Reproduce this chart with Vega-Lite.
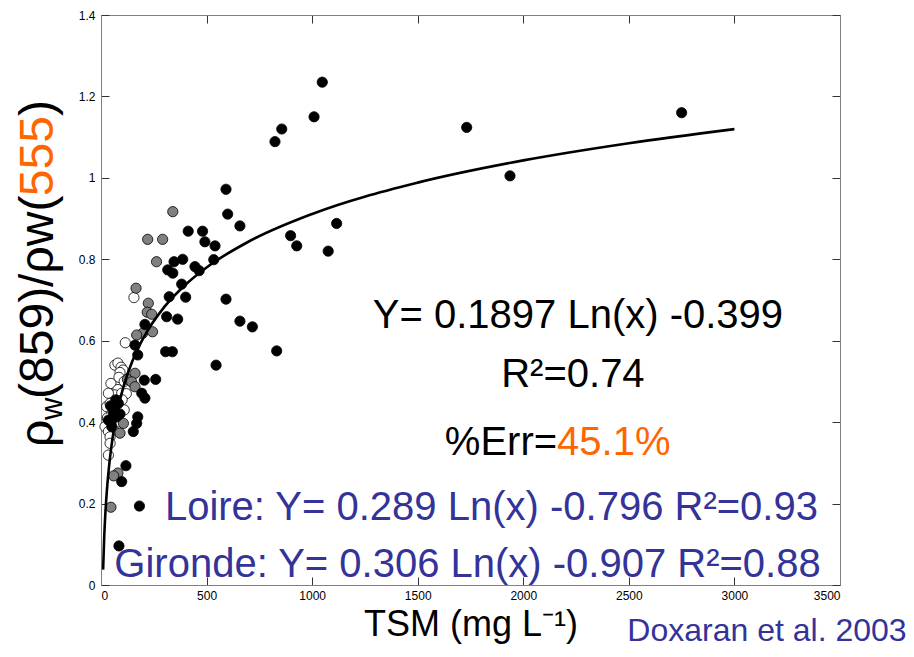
{
  "$schema": "https://vega.github.io/schema/vega-lite/v6.json",
  "width": 739,
  "height": 570,
  "autosize": {"type": "none"},
  "padding": {"left": 101, "top": 15, "right": 74, "bottom": 72},
  "background": "white",
  "config": {"view": {"stroke": null}, "font": "Liberation Sans"},
  "datasets": {
    "samples": [
      {"tsm": 156, "ratio": 0.706, "set": "open"},
      {"tsm": 115, "ratio": 0.595, "set": "open"},
      {"tsm": 66, "ratio": 0.540, "set": "open"},
      {"tsm": 80, "ratio": 0.545, "set": "open"},
      {"tsm": 95, "ratio": 0.535, "set": "open"},
      {"tsm": 104, "ratio": 0.528, "set": "open"},
      {"tsm": 90, "ratio": 0.522, "set": "open"},
      {"tsm": 85, "ratio": 0.510, "set": "open"},
      {"tsm": 47, "ratio": 0.495, "set": "open"},
      {"tsm": 110, "ratio": 0.500, "set": "open"},
      {"tsm": 80, "ratio": 0.480, "set": "open"},
      {"tsm": 66, "ratio": 0.467, "set": "open"},
      {"tsm": 98, "ratio": 0.471, "set": "open"},
      {"tsm": 35, "ratio": 0.471, "set": "open"},
      {"tsm": 120, "ratio": 0.470, "set": "open"},
      {"tsm": 100, "ratio": 0.455, "set": "open"},
      {"tsm": 58, "ratio": 0.438, "set": "open"},
      {"tsm": 27, "ratio": 0.438, "set": "open"},
      {"tsm": 66, "ratio": 0.446, "set": "open"},
      {"tsm": 43, "ratio": 0.446, "set": "open"},
      {"tsm": 110, "ratio": 0.430, "set": "open"},
      {"tsm": 50, "ratio": 0.420, "set": "open"},
      {"tsm": 30, "ratio": 0.410, "set": "open"},
      {"tsm": 75, "ratio": 0.400, "set": "open"},
      {"tsm": 19, "ratio": 0.389, "set": "open"},
      {"tsm": 60, "ratio": 0.380, "set": "open"},
      {"tsm": 35, "ratio": 0.377, "set": "open"},
      {"tsm": 43, "ratio": 0.364, "set": "open"},
      {"tsm": 43, "ratio": 0.348, "set": "open"},
      {"tsm": 35, "ratio": 0.319, "set": "open"},
      {"tsm": 340, "ratio": 0.917, "set": "grey"},
      {"tsm": 221, "ratio": 0.849, "set": "grey"},
      {"tsm": 292, "ratio": 0.849, "set": "grey"},
      {"tsm": 263, "ratio": 0.794, "set": "grey"},
      {"tsm": 166, "ratio": 0.729, "set": "grey"},
      {"tsm": 224, "ratio": 0.692, "set": "grey"},
      {"tsm": 219, "ratio": 0.670, "set": "grey"},
      {"tsm": 240, "ratio": 0.665, "set": "grey"},
      {"tsm": 244, "ratio": 0.622, "set": "grey"},
      {"tsm": 197, "ratio": 0.618, "set": "grey"},
      {"tsm": 169, "ratio": 0.614, "set": "grey"},
      {"tsm": 161, "ratio": 0.520, "set": "grey"},
      {"tsm": 125, "ratio": 0.505, "set": "grey"},
      {"tsm": 145, "ratio": 0.499, "set": "grey"},
      {"tsm": 161, "ratio": 0.487, "set": "grey"},
      {"tsm": 106, "ratio": 0.397, "set": "grey"},
      {"tsm": 90, "ratio": 0.373, "set": "grey"},
      {"tsm": 80, "ratio": 0.275, "set": "grey"},
      {"tsm": 60, "ratio": 0.268, "set": "grey"},
      {"tsm": 47, "ratio": 0.191, "set": "grey"},
      {"tsm": 2750, "ratio": 1.160, "set": "filled"},
      {"tsm": 1732, "ratio": 1.124, "set": "filled"},
      {"tsm": 1937, "ratio": 1.005, "set": "filled"},
      {"tsm": 1048, "ratio": 1.235, "set": "filled"},
      {"tsm": 1009, "ratio": 1.150, "set": "filled"},
      {"tsm": 856, "ratio": 1.120, "set": "filled"},
      {"tsm": 824, "ratio": 1.089, "set": "filled"},
      {"tsm": 592, "ratio": 0.972, "set": "filled"},
      {"tsm": 600, "ratio": 0.911, "set": "filled"},
      {"tsm": 658, "ratio": 0.882, "set": "filled"},
      {"tsm": 1116, "ratio": 0.888, "set": "filled"},
      {"tsm": 898, "ratio": 0.858, "set": "filled"},
      {"tsm": 927, "ratio": 0.833, "set": "filled"},
      {"tsm": 1076, "ratio": 0.820, "set": "filled"},
      {"tsm": 592, "ratio": 0.702, "set": "filled"},
      {"tsm": 658, "ratio": 0.648, "set": "filled"},
      {"tsm": 717, "ratio": 0.634, "set": "filled"},
      {"tsm": 832, "ratio": 0.575, "set": "filled"},
      {"tsm": 545, "ratio": 0.540, "set": "filled"},
      {"tsm": 481, "ratio": 0.869, "set": "filled"},
      {"tsm": 492, "ratio": 0.843, "set": "filled"},
      {"tsm": 540, "ratio": 0.833, "set": "filled"},
      {"tsm": 534, "ratio": 0.799, "set": "filled"},
      {"tsm": 413, "ratio": 0.869, "set": "filled"},
      {"tsm": 445, "ratio": 0.782, "set": "filled"},
      {"tsm": 465, "ratio": 0.772, "set": "filled"},
      {"tsm": 346, "ratio": 0.794, "set": "filled"},
      {"tsm": 387, "ratio": 0.800, "set": "filled"},
      {"tsm": 316, "ratio": 0.774, "set": "filled"},
      {"tsm": 340, "ratio": 0.766, "set": "filled"},
      {"tsm": 382, "ratio": 0.739, "set": "filled"},
      {"tsm": 323, "ratio": 0.708, "set": "filled"},
      {"tsm": 401, "ratio": 0.707, "set": "filled"},
      {"tsm": 311, "ratio": 0.659, "set": "filled"},
      {"tsm": 363, "ratio": 0.653, "set": "filled"},
      {"tsm": 208, "ratio": 0.640, "set": "filled"},
      {"tsm": 161, "ratio": 0.589, "set": "filled"},
      {"tsm": 174, "ratio": 0.565, "set": "filled"},
      {"tsm": 306, "ratio": 0.573, "set": "filled"},
      {"tsm": 338, "ratio": 0.573, "set": "filled"},
      {"tsm": 205, "ratio": 0.503, "set": "filled"},
      {"tsm": 259, "ratio": 0.505, "set": "filled"},
      {"tsm": 193, "ratio": 0.471, "set": "filled"},
      {"tsm": 208, "ratio": 0.459, "set": "filled"},
      {"tsm": 174, "ratio": 0.413, "set": "filled"},
      {"tsm": 169, "ratio": 0.397, "set": "filled"},
      {"tsm": 153, "ratio": 0.377, "set": "filled"},
      {"tsm": 118, "ratio": 0.293, "set": "filled"},
      {"tsm": 98, "ratio": 0.254, "set": "filled"},
      {"tsm": 182, "ratio": 0.194, "set": "filled"},
      {"tsm": 85, "ratio": 0.096, "set": "filled"},
      {"tsm": 58, "ratio": 0.430, "set": "filled"},
      {"tsm": 74, "ratio": 0.413, "set": "filled"},
      {"tsm": 35, "ratio": 0.405, "set": "filled"},
      {"tsm": 51, "ratio": 0.389, "set": "filled"},
      {"tsm": 82, "ratio": 0.446, "set": "filled"},
      {"tsm": 60, "ratio": 0.420, "set": "filled"},
      {"tsm": 45, "ratio": 0.440, "set": "filled"},
      {"tsm": 70, "ratio": 0.455, "set": "filled"},
      {"tsm": 90, "ratio": 0.420, "set": "filled"}
    ],
    "fit": [
      {"tsm": 10, "ratio": 0.0378},
      {"tsm": 15, "ratio": 0.1147},
      {"tsm": 20, "ratio": 0.1693},
      {"tsm": 30, "ratio": 0.2462},
      {"tsm": 40, "ratio": 0.3008},
      {"tsm": 50, "ratio": 0.3431},
      {"tsm": 70, "ratio": 0.4069},
      {"tsm": 100, "ratio": 0.4746},
      {"tsm": 150, "ratio": 0.5515},
      {"tsm": 200, "ratio": 0.6061},
      {"tsm": 300, "ratio": 0.6830},
      {"tsm": 400, "ratio": 0.7376},
      {"tsm": 500, "ratio": 0.7799},
      {"tsm": 700, "ratio": 0.8437},
      {"tsm": 1000, "ratio": 0.9114},
      {"tsm": 1500, "ratio": 0.9883},
      {"tsm": 2000, "ratio": 1.0429},
      {"tsm": 2500, "ratio": 1.0852},
      {"tsm": 3000, "ratio": 1.1198}
    ],
    "anchor": [{}]
  },
  "layer": [
    {
      "data": {"name": "samples"},
      "mark": {"type": "circle", "size": 105, "opacity": 1, "stroke": "black", "strokeWidth": 0.8},
      "encoding": {
        "x": {
          "field": "tsm", "type": "quantitative",
          "scale": {"domain": [0, 3500], "nice": false, "zero": false},
          "axis": {
            "orient": "bottom", "values": [0, 500, 1000, 1500, 2000, 2500, 3000, 3500], "format": "d",
            "grid": false, "tickSize": -8, "tickColor": "#333333", "domainColor": "#808080",
            "labelFont": "Liberation Sans", "labelFontSize": 12, "labelColor": "black", "labelPadding": 13,
            "title": "TSM (mg L⁻¹)", "titleFont": "Liberation Sans", "titleFontSize": 36,
            "titleFontWeight": "normal", "titleColor": "black", "titlePadding": 6
          }
        },
        "y": {
          "field": "ratio", "type": "quantitative",
          "scale": {"domain": [0, 1.4], "nice": false, "zero": false},
          "axis": {
            "orient": "left", "values": [0, 0.2, 0.4, 0.6, 0.8, 1, 1.2, 1.4], "format": "~g",
            "grid": false, "tickSize": -8, "tickColor": "#333333", "domainColor": "#808080",
            "labelFont": "Liberation Sans", "labelFontSize": 12, "labelColor": "black", "labelPadding": 14,
            "title": null
          }
        },
        "fill": {
          "field": "set", "type": "nominal",
          "scale": {"domain": ["open", "grey", "filled"], "range": ["white", "#808080", "black"]},
          "legend": null
        }
      }
    },
    {
      "data": {"name": "fit"},
      "mark": {"type": "line", "color": "black", "strokeWidth": 2.6, "interpolate": "monotone"},
      "encoding": {
        "x": {
          "field": "tsm", "type": "quantitative",
          "axis": {"orient": "top", "values": [0, 500, 1000, 1500, 2000, 2500, 3000, 3500], "labels": false, "title": null,
                   "grid": false, "tickSize": -8, "tickColor": "#333333", "domainColor": "#808080"}
        },
        "y": {
          "field": "ratio", "type": "quantitative",
          "axis": {"orient": "right", "values": [0, 0.2, 0.4, 0.6, 0.8, 1, 1.2, 1.4], "labels": false, "title": null,
                   "grid": false, "tickSize": -8, "tickColor": "#333333", "domainColor": "#808080"}
        }
      }
    },
    {
      "data": {"name": "anchor"},
      "mark": {"type": "text", "text": "Y= 0.1897 Ln(x) -0.399", "fontSize": 40, "align": "center", "baseline": "alphabetic", "color": "black"},
      "encoding": {"x": {"datum": 2259, "type": "quantitative", "axis": null}, "y": {"datum": 0.631, "type": "quantitative", "axis": null}}
    },
    {
      "data": {"name": "anchor"},
      "mark": {"type": "text", "text": "R²=0.74", "fontSize": 40, "align": "center", "baseline": "alphabetic", "color": "black"},
      "encoding": {"x": {"datum": 2235, "type": "quantitative", "axis": null}, "y": {"datum": 0.486, "type": "quantitative", "axis": null}}
    },
    {
      "data": {"name": "anchor"},
      "mark": {"type": "text", "text": "%Err=", "fontSize": 40, "align": "right", "baseline": "alphabetic", "color": "black"},
      "encoding": {"x": {"datum": 2160, "type": "quantitative", "axis": null}, "y": {"datum": 0.319, "type": "quantitative", "axis": null}}
    },
    {
      "data": {"name": "anchor"},
      "mark": {"type": "text", "text": "45.1%", "fontSize": 40, "align": "left", "baseline": "alphabetic", "color": "#FF6600"},
      "encoding": {"x": {"datum": 2160, "type": "quantitative", "axis": null}, "y": {"datum": 0.319, "type": "quantitative", "axis": null}}
    },
    {
      "data": {"name": "anchor"},
      "mark": {"type": "text", "text": "Loire: Y= 0.289 Ln(x) -0.796 R²=0.93", "fontSize": 40, "align": "center", "baseline": "alphabetic", "color": "#333399"},
      "encoding": {"x": {"datum": 1849, "type": "quantitative", "axis": null}, "y": {"datum": 0.160, "type": "quantitative", "axis": null}}
    },
    {
      "data": {"name": "anchor"},
      "mark": {"type": "text", "text": "Gironde: Y= 0.306 Ln(x) -0.907 R²=0.88", "fontSize": 40, "align": "center", "baseline": "alphabetic", "color": "#333399"},
      "encoding": {"x": {"datum": 1736, "type": "quantitative", "axis": null}, "y": {"datum": 0.020, "type": "quantitative", "axis": null}}
    },
    {
      "data": {"name": "anchor"},
      "mark": {"type": "text", "text": "Doxaran et al. 2003", "fontSize": 32, "align": "center", "baseline": "alphabetic", "color": "#333399"},
      "encoding": {"x": {"datum": 3154, "type": "quantitative", "axis": null}, "y": {"datum": -0.1375, "type": "quantitative", "axis": null}}
    },
    {
      "data": {"name": "anchor"},
      "mark": {"type": "text", "text": "ρ", "fontSize": 48, "angle": 270, "align": "left", "baseline": "alphabetic", "color": "black"},
      "encoding": {"x": {"datum": -227, "type": "quantitative", "axis": null}, "y": {"datum": 0.339, "type": "quantitative", "axis": null}}
    },
    {
      "data": {"name": "anchor"},
      "mark": {"type": "text", "text": "w", "fontSize": 31, "angle": 270, "align": "left", "baseline": "alphabetic", "color": "black"},
      "encoding": {"x": {"datum": -185, "type": "quantitative", "axis": null}, "y": {"datum": 0.405, "type": "quantitative", "axis": null}}
    },
    {
      "data": {"name": "anchor"},
      "mark": {"type": "text", "text": "(859)/ρw(", "fontSize": 48, "angle": 270, "align": "left", "baseline": "alphabetic", "color": "black"},
      "encoding": {"x": {"datum": -227, "type": "quantitative", "axis": null}, "y": {"datum": 0.457, "type": "quantitative", "axis": null}}
    },
    {
      "data": {"name": "anchor"},
      "mark": {"type": "text", "text": "555", "fontSize": 48, "angle": 270, "align": "left", "baseline": "alphabetic", "color": "#FF6600"},
      "encoding": {"x": {"datum": -227, "type": "quantitative", "axis": null}, "y": {"datum": 0.955, "type": "quantitative", "axis": null}}
    },
    {
      "data": {"name": "anchor"},
      "mark": {"type": "text", "text": ")", "fontSize": 48, "angle": 270, "align": "left", "baseline": "alphabetic", "color": "black"},
      "encoding": {"x": {"datum": -227, "type": "quantitative", "axis": null}, "y": {"datum": 1.152, "type": "quantitative", "axis": null}}
    }
  ],
  "resolve": {"axis": {"x": "independent", "y": "independent"}}
}
